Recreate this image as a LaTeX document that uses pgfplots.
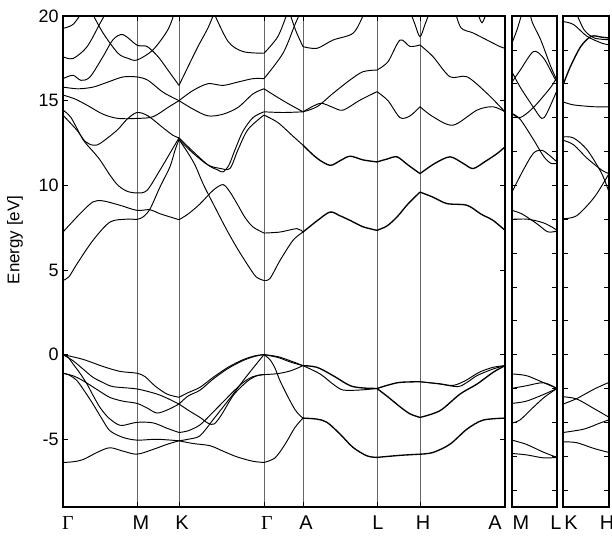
\documentclass[border=0pt]{standalone}
\usepackage{fontspec}
\setmainfont{Liberation Sans}
\newfontfamily\serifG{Liberation Serif}
\usepackage{pgfplots}
\pgfplotsset{compat=1.18}
\pgfplotsset{
  bandaxis/.style={scale only axis, anchor=south west, ymin=-9, ymax=20,
    axis line style={line width=2pt}, tick align=inside, major tick length=5bp,
    tick style={black, line width=0.7pt},
    cycle list={{black, solid}},
    every axis plot/.append style={line width=0.95pt, smooth, tension=0.5, mark=none},
    /pgf/number format/assume math mode=true,
    yticklabel style={font=\fontsize{18}{18}\selectfont, xshift=-1bp},
    xticklabels={}, clip=true},
  dbl/.style={line width=1.35pt}
}
\begin{document}
\begin{tikzpicture}
\useasboundingbox (0bp,0bp) rectangle (612bp,536bp);
% ---------------- main panel ----------------
\begin{axis}[bandaxis, at={(63bp,29bp)}, width=442bp, height=491bp,
  xmin=0, xmax=442, xtick={0,74,116,201,240,314,357,442},
  xmajorgrids, grid style={black!60, line width=0.7pt},
  ytick={-5,0,5,10,15,20}]
% valence G-M-K
\addplot coordinates {(0,0)(20,-0.28)(40,-0.7)(57,-0.99)(74,-1.1)(82,-1.3)(92,-1.85)(104,-2.33)(116,-2.52)};
\addplot coordinates {(0,0)(10,-0.36)(20,-0.85)(30,-1.34)(40,-1.65)(50,-1.89)(74,-2.03)(94,-2.33)(105,-2.6)(116,-2.92)};
\addplot coordinates {(0,-1.1)(10,-1.25)(20,-1.54)(35,-2.1)(47,-2.53)(60,-2.75)(74,-2.88)(84,-3.15)(94,-3.45)(105,-3.25)(116,-2.92)};
\addplot coordinates {(0,0)(5,-0.15)(10,-0.55)(17,-1.1)(24,-1.74)(30,-2.4)(37,-3.12)(45,-3.7)(54,-4.1)(60,-4.18)(74,-4.0)(90,-4.03)(104,-4.35)(116,-4.6)};
\addplot coordinates {(0,-1.1)(6,-1.2)(14,-1.54)(22,-2.2)(30,-2.92)(39,-3.8)(47,-4.5)(60,-4.89)(74,-5.05)(94,-5.0)(116,-5.09)};
\addplot coordinates {(0,-6.37)(10,-6.33)(20,-6.2)(35,-5.75)(47,-5.5)(60,-5.7)(74,-5.88)(90,-5.6)(104,-5.3)(116,-5.09)};
% valence K-G
\addplot coordinates {(116,-2.52)(125,-2.25)(137,-1.93)(150,-1.35)(165,-0.75)(180,-0.3)(192,-0.07)(201,0)};
\addplot coordinates {(116,-2.92)(125,-2.45)(137,-2.1)(150,-1.45)(165,-0.82)(180,-0.35)(192,-0.1)(201,0)};
\addplot coordinates {(116,-2.92)(127,-3.35)(137,-3.71)(145,-4.05)(151,-4.1)(158,-3.6)(170,-2.43)(180,-1.8)(187,-1.46)(195,-1.22)(201,-1.18)};
\addplot coordinates {(116,-4.6)(125,-4.5)(137,-4.15)(150,-3.4)(160,-2.8)(170,-2.2)(180,-1.65)(190,-1.3)(201,-1.18)};
\addplot coordinates {(116,-5.09)(125,-5.0)(137,-4.79)(150,-3.85)(160,-3.1)(170,-2.35)(180,-1.55)(190,-0.8)(201,0)};
\addplot coordinates {(116,-5.09)(130,-5.25)(147,-5.38)(160,-5.7)(174,-6.04)(190,-6.3)(201,-6.37)};
% valence G-A
\addplot coordinates {(201,0)(215,-0.12)(228,-0.38)(240,-0.65)};
\addplot coordinates {(201,0)(215,-0.17)(228,-0.45)(240,-0.65)};
\addplot coordinates {(201,0)(207,-0.3)(212,-0.8)(217,-1.54)(225,-2.5)(232,-3.25)(237,-3.6)(240,-3.75)};
\addplot coordinates {(201,-1.18)(215,-1.12)(228,-0.95)(240,-0.65)};
\addplot coordinates {(201,-6.37)(212,-6.1)(222,-5.3)(232,-4.3)(240,-3.75)};
% valence A-L-H-A
\addplot[dbl] coordinates {(240,-0.65)(254,-0.75)(270,-1.24)(287,-1.83)(300,-1.97)(314,-2.0)};
\addplot coordinates {(240,-0.65)(257,-1.14)(270,-1.74)(280,-2.09)(297,-2.09)(314,-2.0)};
\addplot[dbl] coordinates {(240,-3.75)(254,-3.81)(264,-4.0)(277,-4.69)(290,-5.48)(304,-5.98)(314,-6.07)};
\addplot[dbl] coordinates {(314,-2.0)(325,-1.8)(337,-1.64)(357,-1.6)};
\addplot[dbl] coordinates {(314,-2.0)(325,-2.5)(337,-3.08)(347,-3.5)(357,-3.71)};
\addplot[dbl] coordinates {(314,-6.07)(337,-5.95)(357,-5.88)};
\addplot coordinates {(357,-1.6)(377,-1.74)(395,-1.89)(405,-1.6)(414,-1.24)(430,-0.85)(442,-0.65)};
\addplot coordinates {(357,-1.6)(377,-1.72)(390,-1.82)(402,-1.55)(416,-1.05)(430,-0.75)(442,-0.65)};
\addplot[dbl] coordinates {(357,-3.71)(377,-3.31)(397,-2.33)(414,-1.74)(430,-1.05)(442,-0.65)};
\addplot[dbl] coordinates {(357,-5.88)(370,-5.78)(387,-5.29)(404,-4.4)(420,-3.87)(442,-3.75)};
% conduction G-M-K
\addplot coordinates {(0,4.38)(6,4.6)(14,5.36)(30,6.75)(47,7.83)(64,8.0)(74,7.99)(80,8.13)(87,8.6)(97,9.9)(107,11.1)(112,12.07)(116,12.7)};
\addplot coordinates {(0,7.24)(17,8.32)(30,9.02)(40,9.08)(57,8.82)(74,8.52)(87,8.56)(97,8.32)(116,7.97)};
\addplot coordinates {(0,14.44)(8,14.0)(20,12.7)(30,12.0)(37,11.5)(47,10.6)(55,10.0)(64,9.65)(74,9.55)(84,9.7)(97,10.9)(109,12.1)(116,12.8)};
\addplot coordinates {(0,14.14)(14,13.25)(22,12.6)(30,12.37)(37,12.47)(54,13.25)(64,13.9)(74,14.3)(85,14.1)(100,13.4)(110,12.95)(116,12.8)};
\addplot coordinates {(0,15.33)(12,15.1)(25,14.7)(40,14.2)(55,13.95)(74,13.95)(90,14.05)(105,14.6)(116,15.0)};
\addplot coordinates {(0,15.8)(15,15.7)(30,15.8)(45,16.1)(60,16.4)(74,16.4)(85,16.2)(100,15.5)(116,15.0)};
\addplot coordinates {(0,16.3)(10,16.5)(18,16.2)(27,16.4)(40,17.6)(50,18.6)(60,18.9)(74,18.28)(84,18.2)(95,17.6)(105,16.8)(116,15.9)};
\addplot coordinates {(0,17.59)(10,17.49)(24,18.18)(37,19.56)(44,20.3)};
\addplot coordinates {(28,20.3)(40,19.0)(55,17.8)(65,17.5)(74,17.4)(90,18.0)(105,19.2)(112,20.3)};
\addplot coordinates {(0,19.27)(10,19.5)(20,20.3)};
% conduction K-G
\addplot coordinates {(116,12.7)(124,12.0)(132,11.2)(140,10.1)(152,8.7)(164,7.34)(174,6.3)(184,5.36)(193,4.6)(201,4.38)};
\addplot coordinates {(116,7.97)(125,8.3)(137,8.9)(150,9.7)(160,10.04)(167,9.6)(174,8.92)(182,8.1)(190,7.54)(201,7.18)};
\addplot coordinates {(116,12.8)(130,12.0)(145,11.2)(155,10.9)(160,10.79)(166,11.2)(172,12.1)(180,13.2)(190,14.0)(201,14.34)};
\addplot coordinates {(116,12.7)(130,11.9)(145,11.2)(157,11.0)(167,11.0)(175,12.1)(185,13.3)(201,14.15)};
\addplot coordinates {(116,15.0)(130,14.5)(145,14.1)(160,14.2)(175,14.6)(190,15.4)(201,15.7)};
\addplot coordinates {(116,15.0)(130,15.6)(145,16.0)(160,15.9)(175,16.1)(190,16.3)(201,16.3)};
\addplot coordinates {(116,15.9)(125,17.0)(135,18.2)(145,19.3)(152,20.3)};
\addplot coordinates {(150,20.3)(165,18.5)(180,17.9)(201,17.8)};
% conduction G-A
\addplot coordinates {(201,4.38)(207,4.5)(217,5.56)(230,6.75)(240,7.24)};
\addplot coordinates {(201,7.18)(217,7.24)(234,7.44)(240,7.24)};
\addplot coordinates {(201,14.34)(220,14.3)(240,14.34)};
\addplot coordinates {(201,14.15)(215,13.7)(230,12.9)(240,12.37)};
\addplot coordinates {(201,15.7)(220,15.0)(240,14.34)};
\addplot coordinates {(201,16.3)(220,17.8)(232,19.5)(238,20.3)};
\addplot coordinates {(201,17.8)(215,18.8)(225,20.3)};
\addplot coordinates {(226,20.3)(233,19.1)(240,18.19)};
% conduction A-L-H-A
\addplot[dbl] coordinates {(240,7.24)(254,7.9)(267,8.42)(277,8.2)(287,7.93)(300,7.55)(314,7.34)};
\addplot[dbl] coordinates {(240,12.37)(254,11.6)(267,11.18)(277,11.45)(287,11.72)(300,11.5)(314,11.38)};
\addplot coordinates {(240,14.34)(257,14.84)(270,14.6)(280,14.44)(297,15.03)(314,15.53)};
\addplot coordinates {(240,14.34)(254,14.64)(270,15.43)(287,16.22)(300,16.71)(314,16.81)};
\addplot coordinates {(240,18.19)(254,18.09)(270,18.58)(290,18.98)(300,20.0)(302,20.3)};
\addplot[dbl] coordinates {(314,7.34)(324,7.6)(334,8.13)(345,8.9)(357,9.6)};
\addplot[dbl] coordinates {(314,11.38)(324,11.55)(334,11.68)(345,11.2)(357,10.69)};
\addplot coordinates {(314,15.53)(325,15.0)(337,14.0)(347,14.1)(357,14.64)};
\addplot coordinates {(314,16.81)(325,17.3)(337,18.58)(347,18.2)(357,18.29)};
\addplot[dbl] coordinates {(357,9.6)(370,9.3)(384,8.92)(404,8.82)(418,8.3)(430,7.93)(442,7.34)};
\addplot[dbl] coordinates {(357,10.69)(372,11.3)(387,11.68)(400,11.3)(410,10.99)(422,11.4)(434,11.87)(442,12.27)};
\addplot coordinates {(357,14.64)(370,14.05)(390,13.55)(414,14.44)(430,14.64)(442,14.34)};
\addplot coordinates {(357,18.29)(370,17.6)(387,16.41)(404,16.41)(424,15.43)(442,14.34)};
\addplot coordinates {(347,20.3)(352,19.5)(357,18.78)(362,19.5)(367,20.3)};
\addplot coordinates {(392,20.3)(398,19.3)(410,19.0)(424,18.58)(437,18.19)(442,18.1)};
\addplot coordinates {(414,20.3)(419,19.6)(424,20.3)};
\end{axis}
% ---------------- panel M-L ----------------
\begin{axis}[bandaxis, at={(512bp,29bp)}, width=45bp, height=491bp,
  xmin=0, xmax=44, xtick=\empty, ytick={-8,-6,...,20}, yticklabels={}]
\addplot coordinates {(0,-1.14)(14,-1.24)(28,-1.58)(44,-2.0)};
\addplot coordinates {(0,-1.99)(14,-1.84)(31,-1.66)(44,-2.0)};
\addplot coordinates {(0,-2.88)(14,-2.75)(31,-2.35)(44,-2.0)};
\addplot coordinates {(0,-4.04)(8,-3.85)(21,-3.1)(32,-2.5)(44,-2.0)};
\addplot coordinates {(0,-5.05)(14,-5.3)(31,-5.77)(44,-6.07)};
\addplot coordinates {(0,-5.84)(14,-5.92)(31,-6.1)(44,-6.07)};
\addplot coordinates {(0,8.52)(10,8.3)(25,7.7)(35,7.25)(44,7.3)};
\addplot coordinates {(0,7.99)(15,8.0)(30,7.8)(40,7.5)(44,7.34)};
\addplot coordinates {(0,9.6)(11,10.9)(21,11.9)(29,12.07)(36,11.8)(44,11.38)};
\addplot coordinates {(0,14.24)(8,13.9)(21,12.7)(31,11.7)(38,11.3)(44,11.3)};
\addplot coordinates {(0,14.24)(8,14.0)(21,14.6)(38,15.8)(44,16.4)};
\addplot coordinates {(0,16.7)(8,15.8)(21,14.6)(29,13.95)(34,14.25)(44,15.6)};
\addplot coordinates {(0,16.1)(8,16.8)(21,17.9)(31,17.5)(41,16.4)(44,16.1)};
\addplot coordinates {(17,20.3)(20,19.6)(28,18.6)(38,17.0)(44,16.2)};
\addplot coordinates {(0,18.4)(5,19.2)(9,20.0)(11,20.3)};
\end{axis}
% ---------------- panel K-H ----------------
\begin{axis}[bandaxis, at={(563bp,29bp)}, width=46bp, height=491bp,
  xmin=0, xmax=44, xtick=\empty, ytick={-8,-6,...,20}, yticklabels={}]
\addplot coordinates {(0,-2.49)(13,-2.62)(30,-3.2)(44,-3.7)};
\addplot coordinates {(0,-2.92)(13,-2.6)(30,-2.03)(44,-1.64)};
\addplot coordinates {(0,-4.6)(20,-4.4)(35,-4.05)(44,-3.85)};
\addplot coordinates {(0,-5.15)(13,-5.2)(30,-5.55)(44,-5.78)};
\addplot coordinates {(0,8.03)(13,8.2)(30,9.3)(44,10.69)};
\addplot coordinates {(0,12.86)(10,12.8)(23,12.1)(37,10.7)(44,9.6)};
\addplot coordinates {(0,12.66)(10,12.4)(23,11.6)(37,10.9)(44,10.69)};
\addplot coordinates {(0,14.93)(10,14.75)(30,14.64)(44,14.64)};
\addplot[dbl] coordinates {(0,15.92)(7,17.0)(17,18.2)(27,18.8)(37,18.75)(44,18.7)};
\addplot coordinates {(0,19.67)(10,19.5)(23,18.8)(37,18.4)(44,18.3)};
\addplot coordinates {(12,20.3)(20,19.2)(30,18.7)(44,18.6)};
\end{axis}
% ---------------- labels ----------------
\node[rotate=90, font=\fontsize{17}{17}\selectfont] at (15bp,296bp) {Energy [eV]};
\begin{scope}[every node/.style={anchor=base, font=\fontsize{20}{20}\selectfont}]
\node at (68bp,7bp) {\serifG Γ};
\node at (141bp,7bp) {M};
\node at (182bp,7bp) {K};
\node at (267bp,7bp) {\serifG Γ};
\node at (306bp,7bp) {A};
\node at (378bp,7bp) {L};
\node at (423bp,7bp) {H};
\node at (495bp,7bp) {A};
\node at (521bp,7bp) {M};
\node at (556bp,7bp) {L};
\node at (571bp,7bp) {K};
\node at (607bp,7bp) {H};
\end{scope}
\end{tikzpicture}
\end{document}
